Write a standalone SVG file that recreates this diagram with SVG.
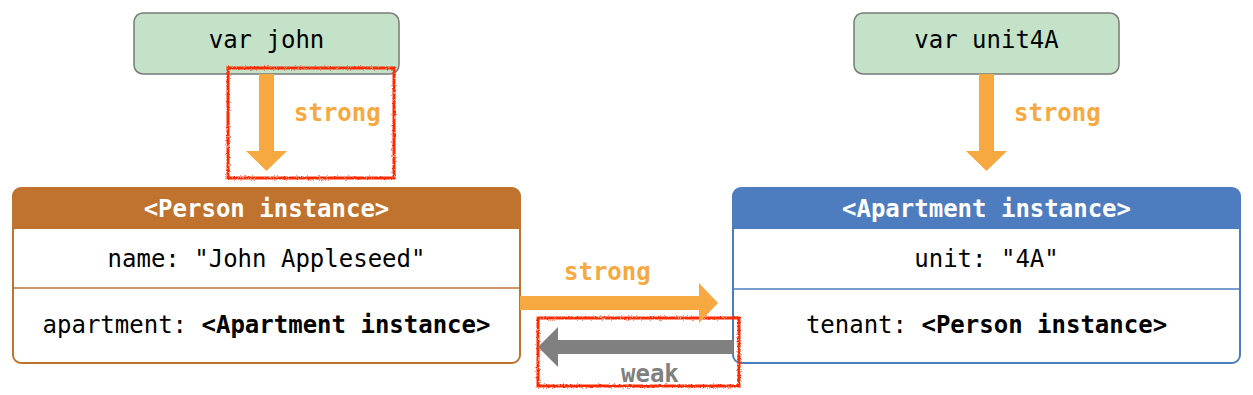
<svg xmlns="http://www.w3.org/2000/svg" width="1253" height="395" viewBox="0 0 1253 395">
  <defs>
    <style>
      text { font-family: "DejaVu Sans Mono", "Liberation Mono", monospace; font-size: 24px; }
      .var { fill: #c3e2c8; stroke: #7a7a7a; stroke-width: 1.5; }
      .c { text-anchor: middle; fill: #000; }
      .hdr { text-anchor: middle; fill: #fff; font-weight: bold; }
      .b { font-weight: bold; }
      .lbl-s { fill: #f7a941; font-weight: bold; }
      .lbl-w { fill: #808080; font-weight: bold; }
      .strong { fill: #f7a941; }
      .weak { fill: #808080; }
      .red { fill: none; stroke: #ff2a00; stroke-width: 3; filter: url(#sketch); }
    </style>
    <filter id="sketch" x="-5%" y="-5%" width="110%" height="110%">
      <feTurbulence type="fractalNoise" baseFrequency="0.7" numOctaves="2" seed="3" result="n"/>
      <feDisplacementMap in="SourceGraphic" in2="n" scale="3" xChannelSelector="R" yChannelSelector="G"/>
    </filter>
  </defs>
  <rect width="1253" height="395" fill="#fff"/>

  <g id="var-john">
    <rect class="var" x="134" y="13" width="265" height="61" rx="9"/>
    <text class="c" x="266.5" y="48">var john</text>
  </g>

  <g id="var-unit4A">
    <rect class="var" x="854" y="13" width="265" height="61" rx="9"/>
    <text class="c" x="986.5" y="48">var unit4A</text>
  </g>

  <g id="person">
    <path d="M13,229 V196 Q13,188 21,188 H512 Q520,188 520,196 V229 Z" fill="#c0722f"/>
    <rect x="13" y="188" width="507" height="175" rx="8" fill="none" stroke="#c0722f" stroke-width="2"/>
    <line x1="13" y1="288" x2="520" y2="288" stroke="#c0722f" stroke-width="1.5"/>
    <text class="hdr" x="266.5" y="217">&lt;Person instance&gt;</text>
    <text class="c" x="266.5" y="267">name: "John Appleseed"</text>
    <text class="c" x="266.5" y="333">apartment: <tspan class="b">&lt;Apartment instance&gt;</tspan></text>
  </g>

  <g id="apartment">
    <path d="M733,229 V196 Q733,188 741,188 H1232 Q1240,188 1240,196 V229 Z" fill="#4d7dbf"/>
    <rect x="733" y="188" width="507" height="175" rx="8" fill="none" stroke="#4d7dbf" stroke-width="2"/>
    <line x1="733" y1="289" x2="1240" y2="289" stroke="#4d7dbf" stroke-width="1.5"/>
    <text class="hdr" x="986.5" y="217">&lt;Apartment instance&gt;</text>
    <text class="c" x="986.5" y="267">unit: "4A"</text>
    <text class="c" x="986.5" y="333">tenant: <tspan class="b">&lt;Person instance&gt;</tspan></text>
  </g>

  <g id="annotations">
    <rect class="red" x="228" y="68" width="166" height="110"/>
    <rect class="red" x="538" y="318" width="201" height="68"/>
  </g>

  <g id="connectors">
    <path class="strong" d="M259,74 H274 V151 H287 L266.5,171 L246,151 H259 Z"/>
    <text class="lbl-s" x="294" y="121">strong</text>
    <path class="strong" d="M979,74 H994 V151 H1007 L986.5,171 L966,151 H979 Z"/>
    <text class="lbl-s" x="1014" y="121">strong</text>
    <path class="strong" d="M520,296 H699 V283 L718,303 L699,323 V310 H520 Z"/>
    <text class="lbl-s" x="564" y="280">strong</text>
    <path class="weak" d="M733,340 H558 V327 L538,347 L558,367 V354 H733 Z"/>
    <text class="lbl-w" x="621" y="382">weak</text>
  </g>
</svg>
